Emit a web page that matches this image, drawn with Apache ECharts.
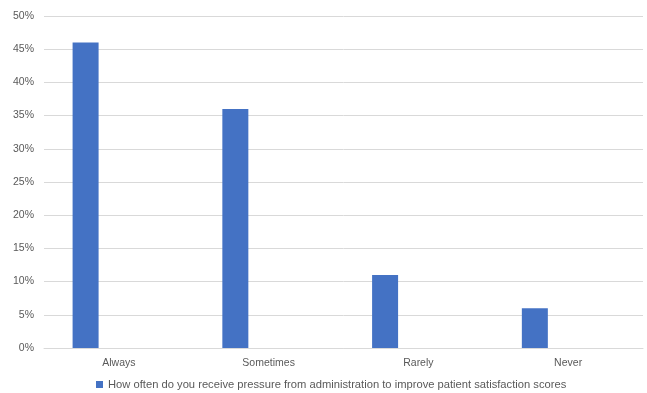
<!DOCTYPE html>
<html>
<head>
<meta charset="utf-8">
<script src="https://cdn.jsdelivr.net/npm/echarts@6/dist/echarts.min.js"></script>
<style>
html,body{margin:0;padding:0;background:#fff;}
#chart{width:647px;height:393px;}
</style>
</head>
<body>
<div id="chart"></div>
<script>
// Survey answers and the share of respondents (percent)
const categories = ['Always', 'Sometimes', 'Rarely', 'Never'];
const shares = [46, 36, 11, 6];
const seriesName = 'How often do you receive pressure from administration to improve patient satisfaction scores';
const yTicks = { min: 0, max: 50, step: 5 };

const font = '"Liberation Sans", Arial, sans-serif';
const chart = echarts.init(document.getElementById('chart'), null, { renderer: 'canvas' });

chart.setOption({
  animation: false,
  grid: { left: 44, right: 4, top: 16, bottom: 45, containLabel: false },
  legend: {
    data: [seriesName],
    top: 379,
    left: 91,
    padding: [0, 5],
    itemWidth: 7,
    itemHeight: 7,
    itemGap: 4,
    icon: 'rect',
    textStyle: { color: '#595959', fontSize: 11.2, fontFamily: font }
  },
  xAxis: {
    type: 'category',
    data: categories,
    axisLine: { show: true, lineStyle: { color: '#d9d9d9', width: 1 } },
    axisTick: { show: false },
    axisLabel: { color: '#595959', fontSize: 10.5, fontFamily: font, margin: 10 }
  },
  yAxis: {
    type: 'value',
    min: yTicks.min,
    max: yTicks.max,
    interval: yTicks.step,
    axisLine: { show: false },
    axisTick: { show: false },
    splitLine: { lineStyle: { color: '#d9d9d9', width: 1 } },
    axisLabel: { color: '#595959', fontSize: 10.5, fontFamily: font, margin: 10, formatter: '{value}%' }
  },
  series: [
    {
      name: seriesName,
      type: 'bar',
      data: shares,
      barWidth: 26,
      barGap: '156%',
      itemStyle: { color: '#4472c4' }
    },
    {
      name: 'placeholder',
      type: 'bar',
      data: [],
      barWidth: 26
    }
  ]
});
</script>
</body>
</html>
